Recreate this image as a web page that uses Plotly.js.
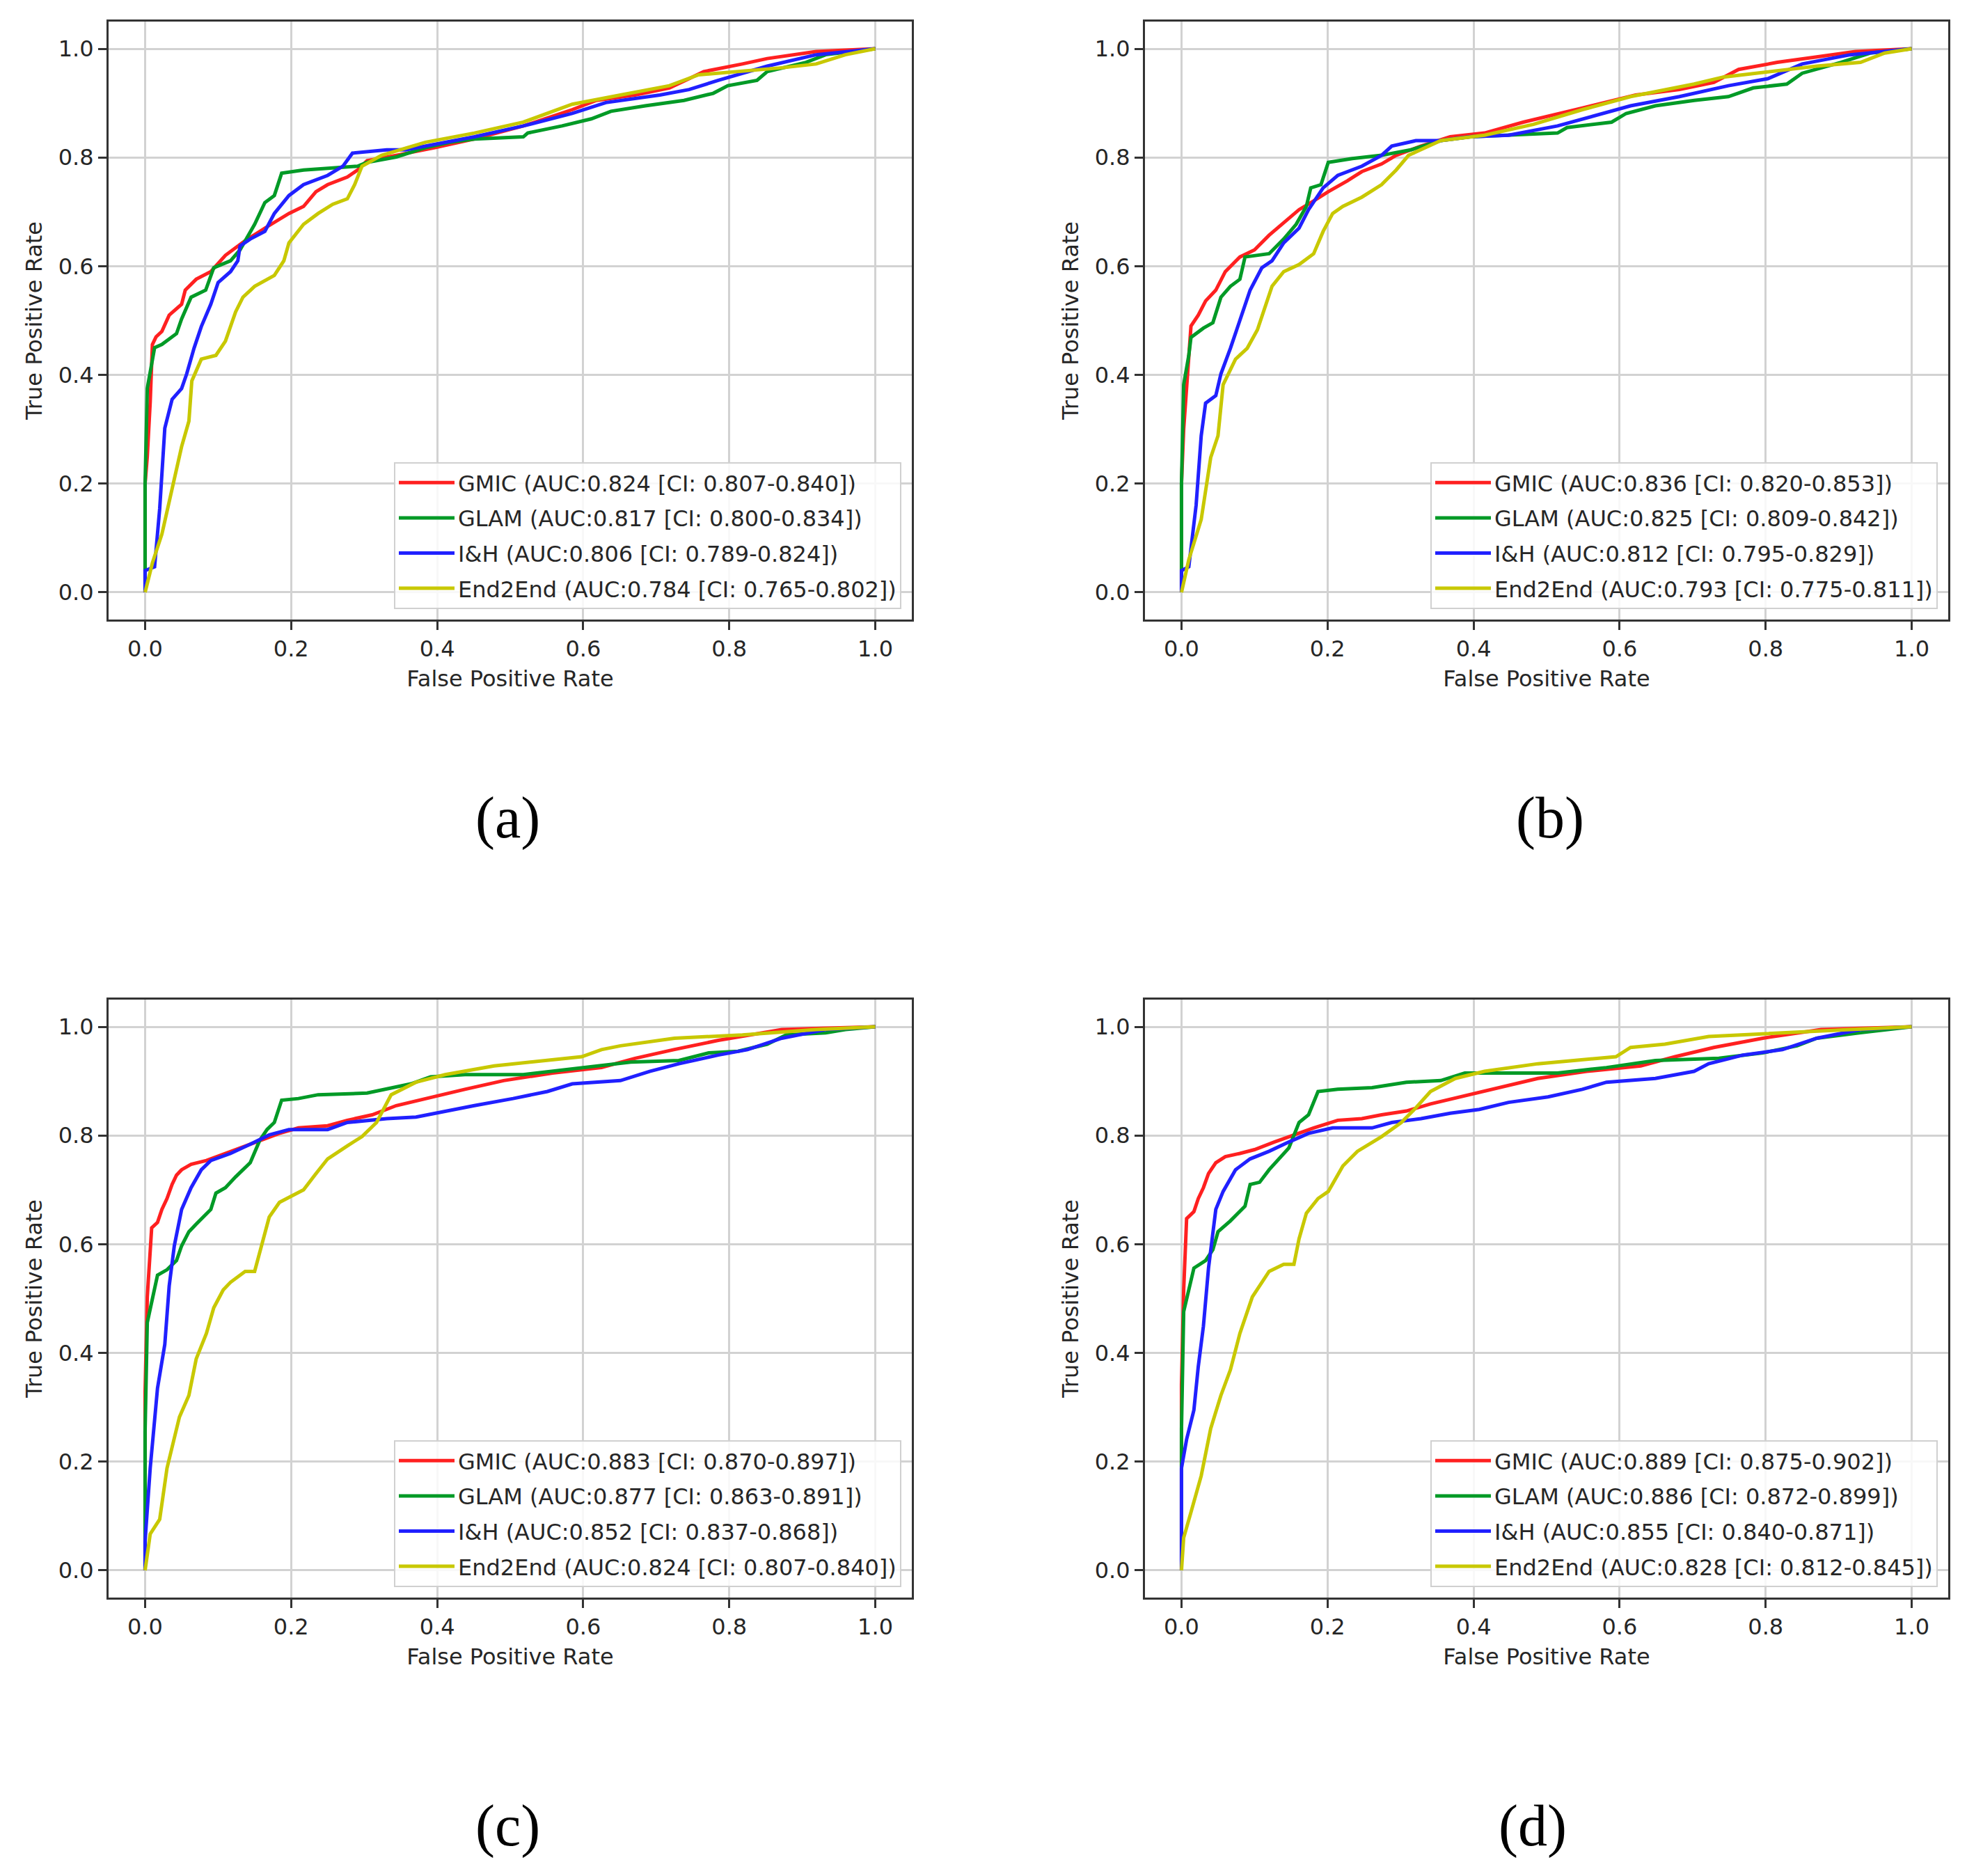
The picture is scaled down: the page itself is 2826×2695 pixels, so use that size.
<!DOCTYPE html>
<html>
<head>
<meta charset="utf-8">
<script src="https://cdn.plot.ly/plotly-3.0.1.min.js"></script>
<style>
  html, body { margin: 0; padding: 0; background: #ffffff; }
  #chart { width: 2826px; height: 2695px; }
</style>
</head>
<body>
<div id="chart"></div>
<script>
// ROC points, one pair of arrays per model and panel

// (a)
const fprA_GMIC = [0, 0, 0.003, 0.007, 0.010, 0.015, 0.023, 0.033, 0.050, 0.055, 0.070, 0.090, 0.110, 0.137, 0.164, 0.197, 0.217, 0.234, 0.250, 0.277, 0.291, 0.304, 0.344, 0.397, 0.451, 0.518, 0.585, 0.618, 0.671, 0.718, 0.745, 0.765, 0.818, 0.852, 0.919, 1.0];
const tprA_GMIC = [0, 0.2, 0.25, 0.35, 0.456, 0.47, 0.48, 0.51, 0.53, 0.556, 0.576, 0.59, 0.62, 0.647, 0.67, 0.697, 0.71, 0.737, 0.75, 0.764, 0.777, 0.794, 0.804, 0.818, 0.834, 0.858, 0.888, 0.905, 0.915, 0.928, 0.945, 0.958, 0.972, 0.982, 0.995, 1.0];
const fprA_GLAM = [0, 0, 0.003, 0.013, 0.023, 0.043, 0.050, 0.063, 0.083, 0.094, 0.117, 0.130, 0.150, 0.164, 0.177, 0.187, 0.217, 0.264, 0.291, 0.304, 0.344, 0.384, 0.418, 0.451, 0.518, 0.524, 0.571, 0.611, 0.638, 0.685, 0.738, 0.778, 0.798, 0.838, 0.852, 0.905, 0.932, 1.0];
const tprA_GLAM = [0, 0.2, 0.375, 0.45, 0.456, 0.476, 0.503, 0.543, 0.556, 0.597, 0.61, 0.63, 0.677, 0.717, 0.73, 0.771, 0.777, 0.781, 0.784, 0.791, 0.801, 0.818, 0.828, 0.834, 0.838, 0.845, 0.858, 0.871, 0.885, 0.895, 0.905, 0.918, 0.932, 0.942, 0.958, 0.975, 0.989, 1.0];
const fprA_IH = [0, 0, 0.013, 0.020, 0.027, 0.037, 0.050, 0.057, 0.067, 0.077, 0.090, 0.100, 0.117, 0.127, 0.130, 0.144, 0.164, 0.177, 0.197, 0.217, 0.250, 0.271, 0.284, 0.331, 0.357, 0.397, 0.451, 0.518, 0.585, 0.631, 0.705, 0.745, 0.785, 0.852, 0.919, 1.0];
const tprA_IH = [0, 0.04, 0.047, 0.154, 0.302, 0.355, 0.375, 0.402, 0.449, 0.489, 0.53, 0.57, 0.59, 0.61, 0.637, 0.65, 0.664, 0.697, 0.73, 0.75, 0.767, 0.784, 0.808, 0.814, 0.814, 0.824, 0.838, 0.858, 0.881, 0.901, 0.915, 0.925, 0.942, 0.968, 0.989, 1.0];
const fprA_E2E = [0, 0.010, 0.023, 0.037, 0.050, 0.060, 0.064, 0.077, 0.097, 0.110, 0.124, 0.134, 0.150, 0.177, 0.190, 0.197, 0.217, 0.237, 0.257, 0.277, 0.287, 0.297, 0.324, 0.384, 0.451, 0.518, 0.585, 0.651, 0.718, 0.758, 0.812, 0.872, 0.919, 0.959, 1.0];
const tprA_E2E = [0, 0.054, 0.107, 0.188, 0.268, 0.315, 0.389, 0.429, 0.436, 0.462, 0.516, 0.543, 0.563, 0.583, 0.61, 0.643, 0.677, 0.697, 0.714, 0.724, 0.75, 0.784, 0.804, 0.828, 0.845, 0.865, 0.898, 0.915, 0.932, 0.952, 0.958, 0.965, 0.972, 0.989, 1.0];

// (b)
const fprB_GMIC = [0, 0, 0.003, 0.010, 0.013, 0.023, 0.033, 0.047, 0.060, 0.080, 0.100, 0.120, 0.140, 0.161, 0.181, 0.201, 0.227, 0.247, 0.274, 0.294, 0.328, 0.368, 0.415, 0.468, 0.549, 0.622, 0.682, 0.729, 0.763, 0.816, 0.870, 0.923, 1.0];
const tprB_GMIC = [0, 0.2, 0.3, 0.42, 0.49, 0.51, 0.536, 0.556, 0.59, 0.617, 0.63, 0.657, 0.68, 0.704, 0.72, 0.737, 0.757, 0.774, 0.788, 0.804, 0.821, 0.838, 0.845, 0.865, 0.891, 0.915, 0.925, 0.938, 0.962, 0.975, 0.985, 0.995, 1.0];
const fprB_GLAM = [0, 0, 0.003, 0.010, 0.013, 0.030, 0.043, 0.054, 0.067, 0.080, 0.087, 0.120, 0.140, 0.157, 0.171, 0.177, 0.191, 0.201, 0.234, 0.274, 0.314, 0.355, 0.395, 0.448, 0.515, 0.528, 0.589, 0.609, 0.649, 0.702, 0.749, 0.783, 0.829, 0.850, 0.903, 0.943, 1.0];
const tprB_GLAM = [0, 0.2, 0.382, 0.436, 0.469, 0.486, 0.496, 0.543, 0.563, 0.576, 0.617, 0.623, 0.65, 0.677, 0.71, 0.744, 0.75, 0.791, 0.798, 0.804, 0.814, 0.831, 0.838, 0.841, 0.845, 0.855, 0.865, 0.881, 0.895, 0.905, 0.912, 0.928, 0.935, 0.955, 0.975, 0.992, 1.0];
const fprB_IH = [0, 0, 0.010, 0.020, 0.027, 0.033, 0.047, 0.054, 0.067, 0.080, 0.094, 0.110, 0.124, 0.140, 0.161, 0.174, 0.194, 0.214, 0.247, 0.274, 0.288, 0.321, 0.355, 0.395, 0.448, 0.515, 0.615, 0.682, 0.749, 0.803, 0.850, 0.916, 1.0];
const tprB_IH = [0, 0.04, 0.047, 0.16, 0.288, 0.348, 0.362, 0.402, 0.449, 0.503, 0.556, 0.597, 0.61, 0.643, 0.67, 0.704, 0.744, 0.767, 0.784, 0.804, 0.821, 0.831, 0.831, 0.838, 0.841, 0.858, 0.895, 0.912, 0.932, 0.945, 0.972, 0.989, 1.0];
const fprB_E2E = [0, 0.010, 0.027, 0.040, 0.050, 0.057, 0.074, 0.090, 0.104, 0.114, 0.124, 0.140, 0.161, 0.181, 0.194, 0.207, 0.221, 0.247, 0.274, 0.294, 0.311, 0.355, 0.415, 0.482, 0.549, 0.615, 0.702, 0.742, 0.803, 0.870, 0.930, 0.963, 1.0];
const tprB_E2E = [0, 0.06, 0.134, 0.248, 0.288, 0.382, 0.429, 0.449, 0.483, 0.523, 0.563, 0.59, 0.603, 0.623, 0.664, 0.697, 0.71, 0.727, 0.75, 0.777, 0.804, 0.831, 0.841, 0.861, 0.888, 0.912, 0.935, 0.948, 0.958, 0.968, 0.975, 0.992, 1.0];

// (c)
const fprC_GMIC = [0, 0, 0.003, 0.009, 0.017, 0.023, 0.030, 0.037, 0.043, 0.050, 0.063, 0.084, 0.104, 0.130, 0.157, 0.184, 0.210, 0.250, 0.277, 0.311, 0.344, 0.384, 0.438, 0.491, 0.558, 0.625, 0.671, 0.724, 0.785, 0.872, 1.0];
const tprC_GMIC = [0, 0.328, 0.503, 0.63, 0.64, 0.664, 0.684, 0.71, 0.727, 0.737, 0.747, 0.754, 0.764, 0.777, 0.791, 0.804, 0.814, 0.818, 0.828, 0.838, 0.855, 0.868, 0.885, 0.901, 0.915, 0.925, 0.942, 0.958, 0.975, 0.995, 1.0];
const fprC_GLAM = [0, 0, 0.003, 0.010, 0.017, 0.030, 0.043, 0.050, 0.060, 0.070, 0.090, 0.097, 0.110, 0.124, 0.144, 0.157, 0.167, 0.177, 0.187, 0.210, 0.237, 0.304, 0.331, 0.364, 0.391, 0.438, 0.518, 0.598, 0.665, 0.731, 0.772, 0.812, 0.852, 0.878, 0.932, 0.959, 1.0];
const tprC_GLAM = [0, 0.255, 0.456, 0.503, 0.543, 0.553, 0.57, 0.597, 0.623, 0.637, 0.664, 0.694, 0.704, 0.724, 0.75, 0.791, 0.811, 0.824, 0.865, 0.868, 0.875, 0.878, 0.885, 0.895, 0.908, 0.912, 0.912, 0.925, 0.935, 0.938, 0.952, 0.955, 0.968, 0.985, 0.989, 0.995, 1.0];
const fprC_IH = [0, 0, 0.007, 0.017, 0.027, 0.033, 0.040, 0.050, 0.063, 0.077, 0.090, 0.117, 0.144, 0.170, 0.197, 0.250, 0.277, 0.331, 0.371, 0.411, 0.451, 0.504, 0.551, 0.585, 0.651, 0.691, 0.731, 0.785, 0.825, 0.872, 0.932, 1.0];
const tprC_IH = [0, 0.054, 0.188, 0.335, 0.416, 0.523, 0.597, 0.664, 0.704, 0.737, 0.754, 0.767, 0.784, 0.801, 0.811, 0.811, 0.824, 0.831, 0.834, 0.845, 0.855, 0.868, 0.881, 0.895, 0.901, 0.918, 0.932, 0.948, 0.958, 0.979, 0.995, 1.0];
const fprC_E2E = [0, 0.007, 0.020, 0.030, 0.047, 0.060, 0.070, 0.084, 0.094, 0.107, 0.117, 0.137, 0.150, 0.160, 0.170, 0.184, 0.217, 0.234, 0.250, 0.277, 0.297, 0.317, 0.337, 0.371, 0.411, 0.478, 0.551, 0.598, 0.625, 0.651, 0.725, 0.818, 0.919, 1.0];
const tprC_E2E = [0, 0.067, 0.094, 0.188, 0.282, 0.322, 0.389, 0.436, 0.483, 0.516, 0.53, 0.55, 0.55, 0.603, 0.65, 0.677, 0.70, 0.73, 0.757, 0.781, 0.798, 0.824, 0.875, 0.898, 0.912, 0.928, 0.938, 0.945, 0.958, 0.965, 0.979, 0.985, 0.995, 1.0];

// (d)
const fprD_GMIC = [0, 0, 0.003, 0.007, 0.017, 0.023, 0.030, 0.037, 0.047, 0.060, 0.080, 0.100, 0.127, 0.154, 0.181, 0.214, 0.247, 0.274, 0.308, 0.341, 0.381, 0.435, 0.488, 0.555, 0.629, 0.676, 0.729, 0.796, 0.876, 1.0];
const tprD_GMIC = [0, 0.342, 0.516, 0.647, 0.66, 0.684, 0.704, 0.73, 0.75, 0.761, 0.767, 0.774, 0.788, 0.801, 0.814, 0.828, 0.831, 0.838, 0.845, 0.858, 0.871, 0.888, 0.905, 0.918, 0.928, 0.945, 0.962, 0.979, 0.995, 1.0];
const fprD_GLAM = [0, 0, 0.003, 0.010, 0.017, 0.033, 0.043, 0.050, 0.067, 0.087, 0.094, 0.107, 0.120, 0.147, 0.161, 0.174, 0.187, 0.214, 0.261, 0.308, 0.355, 0.388, 0.441, 0.515, 0.582, 0.649, 0.736, 0.796, 0.843, 0.870, 0.930, 1.0];
const tprD_GLAM = [0, 0.261, 0.476, 0.516, 0.556, 0.57, 0.59, 0.623, 0.643, 0.67, 0.71, 0.714, 0.737, 0.777, 0.824, 0.838, 0.881, 0.885, 0.888, 0.898, 0.901, 0.915, 0.915, 0.915, 0.925, 0.938, 0.942, 0.952, 0.965, 0.979, 0.989, 1.0];
const fprD_IH = [0, 0, 0.007, 0.017, 0.023, 0.030, 0.037, 0.043, 0.047, 0.057, 0.074, 0.094, 0.120, 0.147, 0.174, 0.207, 0.261, 0.288, 0.328, 0.368, 0.408, 0.448, 0.502, 0.549, 0.582, 0.649, 0.702, 0.722, 0.769, 0.823, 0.870, 0.930, 1.0];
const tprD_IH = [0, 0.188, 0.241, 0.295, 0.375, 0.449, 0.556, 0.623, 0.664, 0.697, 0.737, 0.757, 0.771, 0.788, 0.804, 0.814, 0.814, 0.824, 0.831, 0.841, 0.848, 0.861, 0.871, 0.885, 0.898, 0.905, 0.918, 0.932, 0.948, 0.958, 0.979, 0.995, 1.0];
const fprD_E2E = [0, 0.003, 0.013, 0.027, 0.040, 0.054, 0.067, 0.080, 0.097, 0.107, 0.120, 0.140, 0.154, 0.161, 0.171, 0.187, 0.201, 0.221, 0.241, 0.274, 0.301, 0.321, 0.341, 0.375, 0.415, 0.488, 0.562, 0.595, 0.615, 0.662, 0.722, 0.816, 0.916, 1.0];
const tprD_E2E = [0, 0.06, 0.107, 0.174, 0.261, 0.322, 0.369, 0.436, 0.503, 0.523, 0.55, 0.563, 0.563, 0.61, 0.657, 0.684, 0.697, 0.744, 0.771, 0.798, 0.824, 0.851, 0.881, 0.905, 0.918, 0.932, 0.942, 0.945, 0.962, 0.968, 0.982, 0.989, 0.995, 1.0];

const labelsA = ['GMIC (AUC:0.824 [CI: 0.807-0.840])', 'GLAM (AUC:0.817 [CI: 0.800-0.834])', 'I&H (AUC:0.806 [CI: 0.789-0.824])', 'End2End (AUC:0.784 [CI: 0.765-0.802])'];
const labelsB = ['GMIC (AUC:0.836 [CI: 0.820-0.853])', 'GLAM (AUC:0.825 [CI: 0.809-0.842])', 'I&H (AUC:0.812 [CI: 0.795-0.829])', 'End2End (AUC:0.793 [CI: 0.775-0.811])'];
const labelsC = ['GMIC (AUC:0.883 [CI: 0.870-0.897])', 'GLAM (AUC:0.877 [CI: 0.863-0.891])', 'I&H (AUC:0.852 [CI: 0.837-0.868])', 'End2End (AUC:0.824 [CI: 0.807-0.840])'];
const labelsD = ['GMIC (AUC:0.889 [CI: 0.875-0.902])', 'GLAM (AUC:0.886 [CI: 0.872-0.899])', 'I&H (AUC:0.855 [CI: 0.840-0.871])', 'End2End (AUC:0.828 [CI: 0.812-0.845])'];

const captions = ['(a)', '(b)', '(c)', '(d)'];
const tickVals = [0, 0.2, 0.4, 0.6, 0.8, 1.0];

// matplotlib 'r', 'g', 'b', 'y'
const colors = ['#ff2020', '#009a26', '#2020ff', '#c8c800'];
const textColor = '#262626';
const font = 'DejaVu Sans, sans-serif';

// boxes and caption centres in page pixels
const panels = [
    { fpr: [fprA_GMIC, fprA_GLAM, fprA_IH, fprA_E2E], tpr: [tprA_GMIC, tprA_GLAM, tprA_IH, tprA_E2E], labels: labelsA,
      xdom: [156, 1310], ydom: [31, 890], cap: [730, 1175] },
    { fpr: [fprB_GMIC, fprB_GLAM, fprB_IH, fprB_E2E], tpr: [tprB_GMIC, tprB_GLAM, tprB_IH, tprB_E2E], labels: labelsB,
      xdom: [1645, 2799], ydom: [31, 890], cap: [2227, 1175] },
    { fpr: [fprC_GMIC, fprC_GLAM, fprC_IH, fprC_E2E], tpr: [tprC_GMIC, tprC_GLAM, tprC_IH, tprC_E2E], labels: labelsC,
      xdom: [156, 1310], ydom: [1436, 2295], cap: [730, 2623] },
    { fpr: [fprD_GMIC, fprD_GLAM, fprD_IH, fprD_E2E], tpr: [tprD_GMIC, tprD_GLAM, tprD_IH, tprD_E2E], labels: labelsD,
      xdom: [1645, 2799], ydom: [1436, 2295], cap: [2202, 2623] }
];

const W = 2826, H = 2695;

function axis(dom, anchor, title, isY) {
    return {
        domain: isY ? [1 - dom[1] / H, 1 - dom[0] / H] : [dom[0] / W, dom[1] / W],
        anchor: anchor,
        range: [-0.05, 1.05],
        tickvals: tickVals,
        tickformat: '.1f',
        ticks: 'outside',
        ticklen: 12,
        tickwidth: 3,
        tickcolor: '#333333',
        showline: true,
        linecolor: '#333333',
        linewidth: 3,
        mirror: true,
        showgrid: true,
        gridcolor: '#d2d2d2',
        gridwidth: 3,
        zeroline: false,
        tickfont: { family: font, size: 32, color: textColor },
        title: { text: title, font: { family: font, size: 32, color: textColor }, standoff: 14 }
    };
}

let traces = [];
let layout = {
    width: W,
    height: H,
    margin: { l: 0, r: 0, t: 0, b: 0 },
    paper_bgcolor: '#ffffff',
    plot_bgcolor: '#ffffff',
    showlegend: true,
    annotations: []
};

panels.forEach((p, i) => {
    const n = i == 0 ? '' : String(i + 1);
    const legendName = 'legend' + n;
    for (let k = 0; k < 4; k++) {
        traces.push({
            x: p.fpr[k],
            y: p.tpr[k],
            type: 'scatter',
            mode: 'lines',
            name: p.labels[k],
            xaxis: 'x' + n,
            yaxis: 'y' + n,
            legend: legendName,
            legendgroup: 'g' + i + k,
            line: { color: colors[k], width: 5 }
        });
    }
    layout['xaxis' + n] = axis(p.xdom, 'y' + n, 'False Positive Rate', false);
    layout['yaxis' + n] = axis(p.ydom, 'x' + n, 'True Positive Rate', true);
    layout[legendName] = {
        x: (p.xdom[1] - 15) / W,
        y: 1 - (p.ydom[1] - 15) / H,
        xanchor: 'right',
        yanchor: 'bottom',
        bgcolor: 'rgba(255,255,255,0.85)',
        bordercolor: '#d0d0d0',
        borderwidth: 2,
        itemwidth: 80,
        tracegroupgap: 6,
        font: { family: font, size: 32, color: textColor }
    };
    layout.annotations.push({
        text: captions[i],
        xref: 'paper',
        yref: 'paper',
        x: p.cap[0] / W,
        y: 1 - p.cap[1] / H,
        xanchor: 'center',
        yanchor: 'middle',
        showarrow: false,
        font: { family: 'Liberation Serif, Times New Roman, serif', size: 84, color: '#000000' }
    });
});

Plotly.newPlot('chart', traces, layout, { staticPlot: true });
</script>
</body>
</html>
